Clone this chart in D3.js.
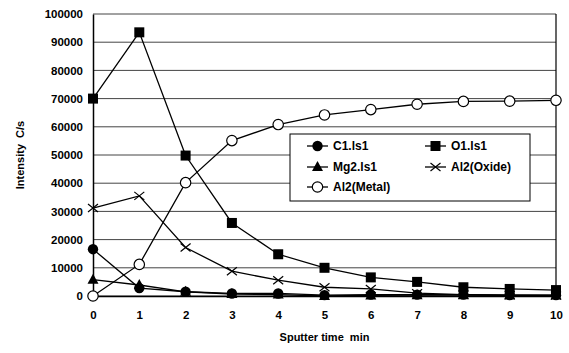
<!DOCTYPE html>
<html><head><meta charset="utf-8">
<script src="https://cdn.jsdelivr.net/npm/d3@7"></script>
<style>body{margin:0;background:#fff}svg text{font-family:"Liberation Sans",Arial,sans-serif;font-weight:bold;white-space:pre}</style>
</head><body><svg id="c" width="569" height="353"></svg>
<script>
const times = [0,1,2,3,4,5,6,7,8,9,10];
const c1 = [16600,2800,1500,900,900,300,500,500,500,300,300];
const o1 = [70000,93500,49800,25900,14800,10000,6600,5000,3100,2500,2100];
const mg2 = [5800,3900,1500,700,500,0,200,300,300,200,200];
const al2Oxide = [31200,35500,17200,8800,5600,3100,2500,1000,500,300,200];
const al2Metal = [0,11200,40200,55100,60800,64200,66100,68000,69000,69100,69400];
const yTicks = [0,10000,20000,30000,40000,50000,60000,70000,80000,90000,100000];
const seriesNames = ["C1.ls1","O1.ls1","Mg2.ls1","Al2(Oxide)","Al2(Metal)"];
const seriesMarkers = ["circle","square","triangle","cross","open"];
const seriesValues = [c1,o1,mg2,al2Oxide,al2Metal];

const svg = d3.select("#c");
const m = {l:93,r:13,t:14,b:57};
const W = 569, H = 353;
const x = d3.scaleLinear().domain([0,10]).range([m.l, W-m.r]);
const y = d3.scaleLinear().domain([0,100000]).range([H-m.b, m.t]);

svg.append("g").selectAll("line").data(yTicks).join("line")
  .attr("x1",m.l).attr("x2",W-m.r).attr("y1",d=>y(d)).attr("y2",d=>y(d))
  .attr("stroke","#444").attr("stroke-width",1);
svg.append("line").attr("x1",W-m.r).attr("x2",W-m.r).attr("y1",m.t).attr("y2",H-m.b).attr("stroke","#000").attr("stroke-width",1.2);

const ya = svg.append("g").attr("transform",`translate(${m.l},0)`)
  .call(d3.axisLeft(y).tickValues(yTicks).tickSize(0).tickPadding(10).tickFormat(d3.format("d")));
ya.select(".domain").attr("stroke","#000").attr("stroke-width",1.5);
ya.selectAll("text").attr("font-size",11.5).attr("fill","#000");
const xa = svg.append("g").attr("transform",`translate(0,${H-m.b})`)
  .call(d3.axisBottom(x).tickValues(times).tickSize(0).tickPadding(15).tickFormat(d3.format("d")));
xa.select(".domain").attr("stroke","#000").attr("stroke-width",1.5);
xa.selectAll("text").attr("font-size",11.5).attr("fill","#000");

svg.append("text").attr("transform",`translate(24,${(m.t+H-m.b)/2}) rotate(-90)`)
  .attr("text-anchor","middle").attr("font-size",11).text("Intensity  C/s");
svg.append("text").attr("x",(m.l+W-m.r)/2).attr("y",341).attr("text-anchor","middle")
  .attr("font-size",11).text("Sputter time  min");

function marker(g, type, cx, cy){
  if(type==="circle") g.append("circle").attr("cx",cx).attr("cy",cy).attr("r",5.2).attr("fill","#000");
  else if(type==="square") g.append("rect").attr("x",cx-5).attr("y",cy-5).attr("width",10).attr("height",10).attr("fill","#000");
  else if(type==="triangle") g.append("path").attr("d",`M${cx},${cy-6}L${cx+5.5},${cy+4}L${cx-5.5},${cy+4}Z`).attr("fill","#000");
  else if(type==="cross") g.append("path").attr("d",`M${cx-5},${cy-4}L${cx+5},${cy+4}M${cx-5},${cy+4}L${cx+5},${cy-4}`).attr("stroke","#000").attr("stroke-width",1.2);
  else if(type==="open") g.append("circle").attr("cx",cx).attr("cy",cy).attr("r",5.2).attr("fill","#fff").attr("stroke","#000").attr("stroke-width",1.2);
}

const line = d3.line().x((d,i)=>x(times[i])).y(d=>y(d));
seriesValues.forEach((vals,si)=>{
  const g = svg.append("g");
  g.append("path").attr("d",line(vals)).attr("fill","none").attr("stroke","#000").attr("stroke-width",1.3);
  vals.forEach((v,i)=>marker(g, seriesMarkers[si], x(times[i]), y(v)));
});

const lg = svg.append("g");
lg.append("rect").attr("x",290).attr("y",134).attr("width",240).attr("height",67).attr("fill","#fff").attr("stroke","#000").attr("stroke-width",1);
const pos = [[307,146],[425,146],[307,167],[425,167],[307,187]];
seriesNames.forEach((n,i)=>{
  const [lx,ly] = pos[i];
  lg.append("line").attr("x1",lx).attr("x2",lx+21).attr("y1",ly).attr("y2",ly).attr("stroke","#000").attr("stroke-width",1.3);
  marker(lg, seriesMarkers[i], lx+10.5, ly);
  lg.append("text").attr("x",lx+26).attr("y",ly+4).attr("font-size",12).text(n);
});
</script></body></html>
